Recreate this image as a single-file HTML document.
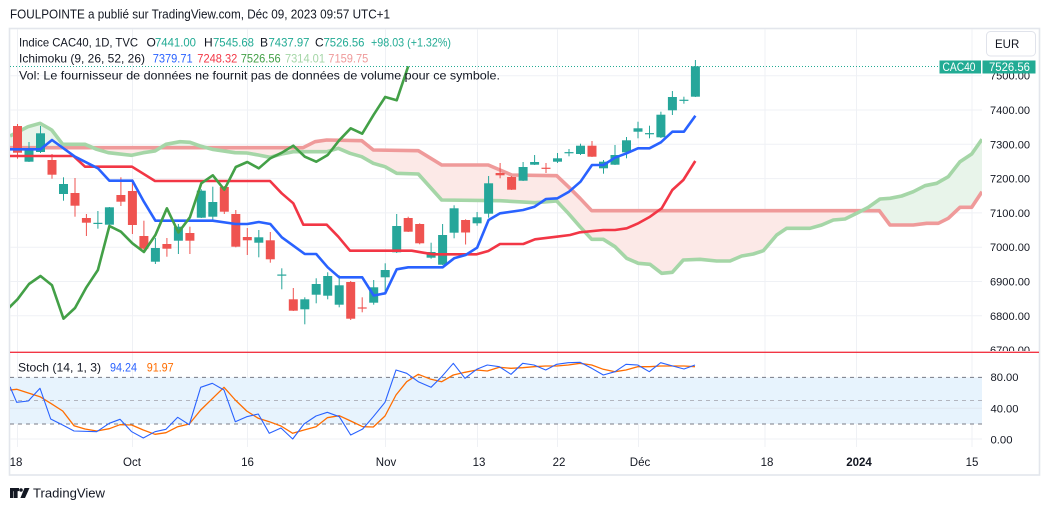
<!DOCTYPE html>
<html><head><meta charset="utf-8"><style>
html,body{margin:0;padding:0;background:#fff;}
svg{display:block;font-family:"Liberation Sans",Arial,sans-serif;}
</style></head><body>
<svg width="1050" height="511" viewBox="0 0 1050 511" xmlns="http://www.w3.org/2000/svg">
<defs>
<clipPath id="pp"><rect x="10" y="29" width="972" height="322"/></clipPath>
<clipPath id="sp"><rect x="10" y="353" width="972" height="94"/></clipPath>
<clipPath id="ax"><rect x="983" y="29" width="56" height="322"/></clipPath>
<clipPath id="belowA"><polygon points="10,136 28,126.7 40,123.3 51.7,130 62.7,144.3 85,144.3 96.7,149.3 108.3,152.7 131.7,155.3 143.3,152.7 155,151 166,144.3 180,141.7 190,142.3 200,146 212.3,149.3 235,152.7 247,153 258.3,155 270,157.3 281.7,154 293.3,151.7 326.7,151.7 338.3,148.3 350,153.3 361.7,156.7 373.3,163.3 385,166.7 396.7,173.3 418.3,174 430,187 441.7,200 500,200.7 535,202.7 556.7,201 568.3,213.3 580,226.7 591.7,239.3 603.3,239.3 615,246.7 626.7,258.3 638.3,263.3 650,264.3 661.7,273.3 672.3,272.3 683.3,260 700,259.3 716.7,261 730,261 741.7,256 753.3,254 763.3,250.7 776.7,235 786.7,228.3 810,228.3 821.7,225 833.3,220 845,219 856.7,213.3 868.3,207.3 880,199 890,198.3 901.7,196 913.3,191.7 925,185.7 936.7,183.3 948.3,176.7 960,161.7 971.7,154 982,139.3 982,360 10,360"/></clipPath>
<clipPath id="belowB"><polygon points="10,147.7 303,147.7 315,141.7 326.7,140 361.7,140.7 373.3,150 418.3,150.7 441.7,165 488.3,165 500,170 511.7,175 556.7,175.7 568.3,186.7 580,198.3 591.7,210.7 879.3,210.7 890,225 913.3,225 926.7,223.3 938.3,223.3 948.3,218.3 960,207.3 971.7,207.3 982,191.7 982,360 10,360"/></clipPath>
</defs>

<!-- header -->
<text x="10" y="18.5" font-size="12.5" fill="#131722" textLength="380" lengthAdjust="spacingAndGlyphs">FOULPOINTE a publié sur TradingView.com, Déc 09, 2023 09:57 UTC+1</text>

<!-- frame -->
<rect x="9.5" y="28.5" width="1030" height="446.5" fill="#fff" stroke="#e3e6ec" stroke-width="1.6"/>

<!-- grid -->
<g stroke="#eff1f5" stroke-width="1">
<line x1="10" y1="75.7" x2="982" y2="75.7"/>
<line x1="10" y1="110" x2="982" y2="110"/>
<line x1="10" y1="144.3" x2="982" y2="144.3"/>
<line x1="10" y1="178.6" x2="982" y2="178.6"/>
<line x1="10" y1="212.9" x2="982" y2="212.9"/>
<line x1="10" y1="247.2" x2="982" y2="247.2"/>
<line x1="10" y1="281.5" x2="982" y2="281.5"/>
<line x1="10" y1="315.8" x2="982" y2="315.8"/>
<line x1="17.5" y1="29" x2="17.5" y2="447"/>
<line x1="132.5" y1="29" x2="132.5" y2="447"/>
<line x1="247.5" y1="29" x2="247.5" y2="447"/>
<line x1="385.5" y1="29" x2="385.5" y2="447"/>
<line x1="477.5" y1="29" x2="477.5" y2="447"/>
<line x1="557.5" y1="29" x2="557.5" y2="447"/>
<line x1="638.5" y1="29" x2="638.5" y2="447"/>
<line x1="765" y1="29" x2="765" y2="447"/>
<line x1="856.5" y1="29" x2="856.5" y2="447"/>
<line x1="972" y1="29" x2="972" y2="447"/>
</g>

<g clip-path="url(#pp)">
<!-- cloud fills -->
<g fill-rule="evenodd">
<polygon clip-path="url(#belowA)" fill="#e8f4ea" points="10,136 28,126.7 40,123.3 51.7,130 62.7,144.3 85,144.3 96.7,149.3 108.3,152.7 131.7,155.3 143.3,152.7 155,151 166,144.3 180,141.7 190,142.3 200,146 212.3,149.3 235,152.7 247,153 258.3,155 270,157.3 281.7,154 293.3,151.7 326.7,151.7 338.3,148.3 350,153.3 361.7,156.7 373.3,163.3 385,166.7 396.7,173.3 418.3,174 430,187 441.7,200 500,200.7 535,202.7 556.7,201 568.3,213.3 580,226.7 591.7,239.3 603.3,239.3 615,246.7 626.7,258.3 638.3,263.3 650,264.3 661.7,273.3 672.3,272.3 683.3,260 700,259.3 716.7,261 730,261 741.7,256 753.3,254 763.3,250.7 776.7,235 786.7,228.3 810,228.3 821.7,225 833.3,220 845,219 856.7,213.3 868.3,207.3 880,199 890,198.3 901.7,196 913.3,191.7 925,185.7 936.7,183.3 948.3,176.7 960,161.7 971.7,154 982,139.3 982,191.7 971.7,207.3 960,207.3 948.3,218.3 938.3,223.3 926.7,223.3 913.3,225 890,225 879.3,210.7 591.7,210.7 580,198.3 568.3,186.7 556.7,175.7 511.7,175 500,170 488.3,165 441.7,165 418.3,150.7 373.3,150 361.7,140.7 326.7,140 315,141.7 303,147.7 10,147.7"/>
<polygon clip-path="url(#belowB)" fill="#fce9e7" points="10,136 28,126.7 40,123.3 51.7,130 62.7,144.3 85,144.3 96.7,149.3 108.3,152.7 131.7,155.3 143.3,152.7 155,151 166,144.3 180,141.7 190,142.3 200,146 212.3,149.3 235,152.7 247,153 258.3,155 270,157.3 281.7,154 293.3,151.7 326.7,151.7 338.3,148.3 350,153.3 361.7,156.7 373.3,163.3 385,166.7 396.7,173.3 418.3,174 430,187 441.7,200 500,200.7 535,202.7 556.7,201 568.3,213.3 580,226.7 591.7,239.3 603.3,239.3 615,246.7 626.7,258.3 638.3,263.3 650,264.3 661.7,273.3 672.3,272.3 683.3,260 700,259.3 716.7,261 730,261 741.7,256 753.3,254 763.3,250.7 776.7,235 786.7,228.3 810,228.3 821.7,225 833.3,220 845,219 856.7,213.3 868.3,207.3 880,199 890,198.3 901.7,196 913.3,191.7 925,185.7 936.7,183.3 948.3,176.7 960,161.7 971.7,154 982,139.3 982,191.7 971.7,207.3 960,207.3 948.3,218.3 938.3,223.3 926.7,223.3 913.3,225 890,225 879.3,210.7 591.7,210.7 580,198.3 568.3,186.7 556.7,175.7 511.7,175 500,170 488.3,165 441.7,165 418.3,150.7 373.3,150 361.7,140.7 326.7,140 315,141.7 303,147.7 10,147.7"/>
</g>
<!-- senkou lines -->
<g fill="none" stroke-width="3.6" stroke-linejoin="round">
<polyline stroke="#ef9a9a" points="10,147.7 303,147.7 315,141.7 326.7,140 361.7,140.7 373.3,150 418.3,150.7 441.7,165 488.3,165 500,170 511.7,175 556.7,175.7 568.3,186.7 580,198.3 591.7,210.7 879.3,210.7 890,225 913.3,225 926.7,223.3 938.3,223.3 948.3,218.3 960,207.3 971.7,207.3 982,191.7"/>
<polyline stroke="#a5d6a7" points="10,136 28,126.7 40,123.3 51.7,130 62.7,144.3 85,144.3 96.7,149.3 108.3,152.7 131.7,155.3 143.3,152.7 155,151 166,144.3 180,141.7 190,142.3 200,146 212.3,149.3 235,152.7 247,153 258.3,155 270,157.3 281.7,154 293.3,151.7 326.7,151.7 338.3,148.3 350,153.3 361.7,156.7 373.3,163.3 385,166.7 396.7,173.3 418.3,174 430,187 441.7,200 500,200.7 535,202.7 556.7,201 568.3,213.3 580,226.7 591.7,239.3 603.3,239.3 615,246.7 626.7,258.3 638.3,263.3 650,264.3 661.7,273.3 672.3,272.3 683.3,260 700,259.3 716.7,261 730,261 741.7,256 753.3,254 763.3,250.7 776.7,235 786.7,228.3 810,228.3 821.7,225 833.3,220 845,219 856.7,213.3 868.3,207.3 880,199 890,198.3 901.7,196 913.3,191.7 925,185.7 936.7,183.3 948.3,176.7 960,161.7 971.7,154 982,139.3"/>
</g>

<!-- candles teal -->
<g fill="#26a69a">
<rect x="28.5" y="142" width="1" height="20"/><rect x="24.5" y="150" width="9" height="11.7"/>
<rect x="40" y="126" width="1" height="27"/><rect x="36" y="133.3" width="9" height="18.7"/>
<rect x="63" y="177.3" width="1" height="23.4"/><rect x="59" y="184" width="9" height="10"/>
<rect x="97.4" y="211" width="1" height="17.7"/><rect x="93.4" y="222.8" width="9" height="1.2"/>
<rect x="108.9" y="207" width="1" height="19"/><rect x="104.9" y="207.3" width="9" height="17.4"/>
<rect x="154.9" y="238" width="1" height="26"/><rect x="150.9" y="248" width="9" height="13.7"/>
<rect x="177.9" y="224" width="1" height="30"/><rect x="173.9" y="226.7" width="9" height="14"/>
<rect x="200.8" y="189.3" width="1" height="28.7"/><rect x="196.8" y="190.7" width="9" height="27"/>
<rect x="212.3" y="186.7" width="1" height="33.3"/><rect x="208.3" y="202" width="9" height="14.7"/>
<rect x="258.3" y="230" width="1" height="27.3"/><rect x="254.3" y="237.3" width="9" height="5.4"/>
<rect x="281.3" y="268.3" width="1" height="21"/><rect x="277.3" y="274.5" width="9" height="1.2"/>
<rect x="304.3" y="297.3" width="1" height="27"/><rect x="300.3" y="299.3" width="9" height="10"/>
<rect x="315.7" y="278.3" width="1" height="25"/><rect x="311.7" y="284" width="9" height="10.7"/>
<rect x="327.2" y="272.3" width="1" height="27"/><rect x="323.2" y="276" width="9" height="19.7"/>
<rect x="338.7" y="275.3" width="1" height="32"/><rect x="334.7" y="285.3" width="9" height="19.4"/>
<rect x="373.2" y="280" width="1" height="24.7"/><rect x="369.2" y="287.3" width="9" height="15.4"/>
<rect x="384.7" y="263.3" width="1" height="28.4"/><rect x="380.7" y="270" width="9" height="7.3"/>
<rect x="396.2" y="214" width="1" height="39"/><rect x="392.2" y="226" width="9" height="26.3"/>
<rect x="430.6" y="242.7" width="1" height="16"/><rect x="426.6" y="252" width="9" height="5.7"/>
<rect x="442.1" y="224" width="1" height="41"/><rect x="438.1" y="235" width="9" height="29.7"/>
<rect x="453.6" y="205.3" width="1" height="33"/><rect x="449.6" y="208.3" width="9" height="24.4"/>
<rect x="476.6" y="212" width="1" height="13.7"/><rect x="472.6" y="217.3" width="9" height="6"/>
<rect x="488.1" y="176" width="1" height="41.7"/><rect x="484.1" y="183.3" width="9" height="30.4"/>
<rect x="522.6" y="162" width="1" height="19"/><rect x="518.6" y="167" width="9" height="13.7"/>
<rect x="534.1" y="155" width="1" height="10"/><rect x="530.1" y="162" width="9" height="2.7"/>
<rect x="557" y="153" width="1" height="10"/><rect x="553" y="158.3" width="9" height="3.4"/>
<rect x="568.5" y="149" width="1" height="7.3"/><rect x="564.5" y="152.1" width="9" height="1.2"/>
<rect x="580" y="143.7" width="1" height="11.3"/><rect x="576" y="145.7" width="9" height="8.3"/>
<rect x="603" y="160" width="1" height="13.7"/><rect x="599" y="161.7" width="9" height="6.6"/>
<rect x="614.5" y="145" width="1" height="20"/><rect x="610.5" y="155" width="9" height="9.7"/>
<rect x="626" y="137" width="1" height="21.3"/><rect x="622" y="140.3" width="9" height="12"/>
<rect x="637.5" y="121.7" width="1" height="16.6"/><rect x="633.5" y="128.3" width="9" height="3.4"/>
<rect x="649" y="125.7" width="1" height="12.6"/><rect x="645" y="133.1" width="9" height="1.2"/>
<rect x="660.4" y="111.7" width="1" height="26.3"/><rect x="656.4" y="114.7" width="9" height="22.6"/>
<rect x="671.9" y="91" width="1" height="24"/><rect x="667.9" y="97" width="9" height="13.3"/>
<rect x="683.4" y="96.7" width="1" height="7"/><rect x="679.4" y="99.7" width="9" height="1.2"/>
<rect x="694.9" y="60" width="1" height="37"/><rect x="690.9" y="66.3" width="9" height="30.4"/>
</g>
<!-- candles red -->
<g fill="#ef5350">
<rect x="17" y="124" width="1" height="34.7"/><rect x="13" y="126" width="9" height="26.7"/>
<rect x="51.5" y="154" width="1" height="24.7"/><rect x="47.5" y="160" width="9" height="14.7"/>
<rect x="74.5" y="178" width="1" height="38.7"/><rect x="70.5" y="193" width="9" height="12.7"/>
<rect x="85.9" y="214" width="1" height="22"/><rect x="81.9" y="218" width="9" height="4.7"/>
<rect x="120.4" y="177.3" width="1" height="28.7"/><rect x="116.4" y="195" width="9" height="6.7"/>
<rect x="131.9" y="179.3" width="1" height="54.7"/><rect x="127.9" y="191" width="9" height="34"/>
<rect x="143.4" y="220.7" width="1" height="29.3"/><rect x="139.4" y="236" width="9" height="12.7"/>
<rect x="166.4" y="238" width="1" height="18.7"/><rect x="162.4" y="244" width="9" height="4.7"/>
<rect x="189.4" y="226.7" width="1" height="27.3"/><rect x="185.4" y="233" width="9" height="7.7"/>
<rect x="223.8" y="186" width="1" height="28"/><rect x="219.8" y="187" width="9" height="24.7"/>
<rect x="235.3" y="210" width="1" height="37.3"/><rect x="231.3" y="214" width="9" height="32.7"/>
<rect x="246.8" y="228" width="1" height="27"/><rect x="242.8" y="237" width="9" height="3.3"/>
<rect x="269.8" y="232" width="1" height="30.7"/><rect x="265.8" y="240.3" width="9" height="19"/>
<rect x="292.8" y="288" width="1" height="23"/><rect x="288.8" y="299.3" width="9" height="11.4"/>
<rect x="350.2" y="281" width="1" height="39"/><rect x="346.2" y="282" width="9" height="36.7"/>
<rect x="361.7" y="297.3" width="1" height="15"/><rect x="357.7" y="307.4" width="9" height="1.2"/>
<rect x="407.7" y="216.7" width="1" height="15.3"/><rect x="403.7" y="218" width="9" height="13.7"/>
<rect x="419.2" y="223.3" width="1" height="21"/><rect x="415.2" y="224" width="9" height="19.3"/>
<rect x="465.1" y="219.3" width="1" height="25.2"/><rect x="461.1" y="220" width="9" height="12.5"/>
<rect x="499.6" y="163" width="1" height="15.3"/><rect x="495.6" y="173" width="9" height="2.3"/>
<rect x="511.1" y="176" width="1" height="14"/><rect x="507.1" y="177" width="9" height="12.7"/>
<rect x="545.5" y="163" width="1" height="10"/><rect x="541.5" y="167.7" width="9" height="1.2"/>
<rect x="591.5" y="141" width="1" height="16"/><rect x="587.5" y="145.7" width="9" height="11"/>
</g>

<!-- kijun, tenkan, chikou -->
<g fill="none" stroke-width="2.6" stroke-linejoin="round">
<polyline stroke="#f23645" points="10,156 73.5,156 85,166.7 132,166.7 155,181 270,181 281.7,193.3 293.3,203.3 303.3,224.7 326.7,224.7 338.3,236.7 350,250.7 411.7,250.7 423.3,252.7 433.3,254.3 476.7,254.3 488.3,251 500,244 523.3,244 535,239.3 556.7,236.7 570,235 580,232.3 603.3,230 615,230 626.7,228.3 638.3,223.3 650,216.7 661.7,208.3 672.3,190 683.3,180 695.3,161"/>
<polyline stroke="#2962ff" points="10,149.3 40.5,149.3 52,140 75,156.7 97.9,168.3 109.4,180.7 132.4,180.7 143.9,201.7 155.4,220.7 212.8,220.7 235.8,224 247.3,224 258.8,222 270.3,224 281.8,237.3 304.8,254 316.2,254 327.7,267.3 339.2,277.3 362.2,277.3 373.7,295.5 385.2,293.3 396.7,269.3 408.2,267.3 442.6,267.3 454.1,258.3 465.6,255 477.1,247.7 488.6,220 500.1,213.3 523.1,210 534.6,206.7 546,199 557.5,198.3 569,191.7 580.5,181.7 592,165 603.5,165 615,157.7 626.5,153.3 638,148.3 649.5,148.3 660.9,142.3 672.4,131.7 683.9,131.7 695.4,115.7"/>
<polyline stroke="#43a047" points="6,310.7 17.5,299.3 29,284 40.5,276 52,285.3 63.5,318.7 75,308 86.4,287.3 97.9,270 109.4,226 120.9,231.7 132.4,243.3 143.9,252 155.4,235 166.9,208.3 178.4,232.5 189.9,217.3 201.3,183.3 212.8,175.3 224.3,189.7 235.8,167 247.3,162 258.8,168.3 270.3,158.3 281.8,152.7 293.3,145.7 304.8,156.7 316.2,161.7 327.7,155 339.2,140.3 350.7,128.3 362.2,133.7 373.7,114.7 385.2,97 396.7,100.3 408.2,66.3"/>
</g>
<!-- price line -->
<line x1="10" y1="66.5" x2="939" y2="66.5" stroke="#22ab94" stroke-width="1" stroke-dasharray="1,2"/>
</g>

<!-- legend -->
<g font-size="12" fill="#131722">
<text x="19" y="46.3" textLength="119" lengthAdjust="spacingAndGlyphs">Indice CAC40, 1D, TVC</text>
<text x="146.5" y="46.3">O</text><text x="155" y="46.3" fill="#22ab94" textLength="41" lengthAdjust="spacingAndGlyphs">7441.00</text>
<text x="204" y="46.3">H</text><text x="213" y="46.3" fill="#22ab94" textLength="41" lengthAdjust="spacingAndGlyphs">7545.68</text>
<text x="260" y="46.3">B</text><text x="268.5" y="46.3" fill="#22ab94" textLength="41" lengthAdjust="spacingAndGlyphs">7437.97</text>
<text x="315" y="46.3">C</text><text x="323.5" y="46.3" fill="#22ab94" textLength="41" lengthAdjust="spacingAndGlyphs">7526.56</text>
<text x="371" y="46.3" fill="#22ab94" textLength="80" lengthAdjust="spacingAndGlyphs">+98.03 (+1.32%)</text>
<text x="19" y="62.7" textLength="126" lengthAdjust="spacingAndGlyphs">Ichimoku (9, 26, 52, 26)</text>
<text x="152.7" y="62.7" fill="#2962ff" textLength="40" lengthAdjust="spacingAndGlyphs">7379.71</text>
<text x="197.3" y="62.7" fill="#f23645" textLength="40" lengthAdjust="spacingAndGlyphs">7248.32</text>
<text x="240.7" y="62.7" fill="#43a047" textLength="40" lengthAdjust="spacingAndGlyphs">7526.56</text>
<text x="285" y="62.7" fill="#a5d6a7" textLength="40" lengthAdjust="spacingAndGlyphs">7314.01</text>
<text x="328.3" y="62.7" fill="#ef9a9a" textLength="40" lengthAdjust="spacingAndGlyphs">7159.75</text>
<text x="19" y="79.7" textLength="481" lengthAdjust="spacingAndGlyphs">Vol: Le fournisseur de données ne fournit pas de données de volume pour ce symbole.</text>
</g>

<!-- red separator -->
<line x1="10" y1="352.3" x2="1039" y2="352.3" stroke="#f23645" stroke-width="1.4"/>

<!-- stoch pane -->
<g clip-path="url(#sp)">
<rect x="10" y="377.4" width="972" height="46.6" fill="#e7f3fd"/>
<line x1="10" y1="408.2" x2="982" y2="408.2" stroke="#dfe6ee" stroke-width="1"/>
<line x1="10" y1="439" x2="982" y2="439" stroke="#eff1f5" stroke-width="1"/>
<line x1="10" y1="377.4" x2="982" y2="377.4" stroke="#787b86" stroke-width="1" stroke-dasharray="4,4"/>
<line x1="10" y1="400.5" x2="982" y2="400.5" stroke="#b2b5be" stroke-width="1" stroke-dasharray="4,4"/>
<line x1="10" y1="424" x2="982" y2="424" stroke="#787b86" stroke-width="1" stroke-dasharray="4,4"/>
<polyline fill="none" stroke="#ff6d00" stroke-width="1.3" stroke-linejoin="round" points="10,390 16.7,389.3 40,396.7 50.7,403.3 62.7,411 74,425.7 85,429 96.7,431 109.3,428.7 120,424.7 131.7,425 143.3,430 155,434.3 166,432.7 177.7,426.7 189.3,424 200.7,410 212.3,398.7 224,387.3 235.3,400 246.7,411 258.3,418.3 269.3,421.7 281,426 292.7,433.3 304,430 316,426.7 327.3,417.7 339.3,415.7 350.7,421 362.7,426.7 373.3,427 385,416 396,395 406.7,381.7 418.3,374.3 431,379.3 441.7,381.7 453.3,375 465,372.3 476.7,370 487.3,371 499.3,367.3 511,368.3 522.7,367.7 534,366.7 545.7,366 556.7,366 568.3,365 580,363.3 591.7,365 603.3,369.3 615,371.7 626,370 637.7,366.7 649.3,366.7 660.7,366 672.7,366 684,366 695,366.7"/>
<polyline fill="none" stroke="#2962ff" stroke-width="1.1" stroke-linejoin="round" points="10,386.7 16.7,402.3 28.3,401 40,388.3 50.7,419 62.7,425 74,431 96.7,431.7 109.3,423.3 120,419.3 131.7,431.7 143.3,438 155,431.7 166,429.3 177.7,417.3 189.3,424.7 200.7,387.3 212.3,383.3 224,390 235.3,421.7 246.7,416.7 258.3,414 269.3,433.3 281,428 292.7,439 304,424 316,416 327.3,412.3 339.3,416.7 350.7,435 362.7,429 373.3,416.7 385,402.3 396,370 406.7,373.3 418.3,381.7 431,387.3 441.7,376.7 453.3,363.3 465,378.3 476.7,369.3 487.3,365 499.3,366.7 511,374.3 522.7,363.3 534,365 545.7,370 556.7,364.3 568.3,362.7 580,362.3 591.7,368.3 603.3,375 615,371.7 626,364.3 637.7,365 649.3,371.7 660.7,362.7 672.7,366 684,369 695,365"/>
</g>
<g font-size="12">
<text x="18" y="371.5" fill="#131722" textLength="83" lengthAdjust="spacingAndGlyphs">Stoch (14, 1, 3)</text>
<text x="110" y="371.5" fill="#2962ff" textLength="27" lengthAdjust="spacingAndGlyphs">94.24</text>
<text x="146.7" y="371.5" fill="#ff6d00" textLength="27" lengthAdjust="spacingAndGlyphs">91.97</text>
</g>

<!-- price axis -->
<g font-size="11" fill="#131722">
<g clip-path="url(#ax)">
<text x="990" y="79.7" textLength="40" lengthAdjust="spacingAndGlyphs">7500.00</text>
<text x="990" y="114" textLength="40" lengthAdjust="spacingAndGlyphs">7400.00</text>
<text x="990" y="148.3" textLength="40" lengthAdjust="spacingAndGlyphs">7300.00</text>
<text x="990" y="182.6" textLength="40" lengthAdjust="spacingAndGlyphs">7200.00</text>
<text x="990" y="216.9" textLength="40" lengthAdjust="spacingAndGlyphs">7100.00</text>
<text x="990" y="251.2" textLength="40" lengthAdjust="spacingAndGlyphs">7000.00</text>
<text x="990" y="285.5" textLength="40" lengthAdjust="spacingAndGlyphs">6900.00</text>
<text x="990" y="319.8" textLength="40" lengthAdjust="spacingAndGlyphs">6800.00</text>
<text x="990" y="354.1" textLength="40" lengthAdjust="spacingAndGlyphs">6700.00</text>
</g>
<text x="990.5" y="381" textLength="28" lengthAdjust="spacingAndGlyphs">80.00</text>
<text x="990.5" y="412.3" textLength="28" lengthAdjust="spacingAndGlyphs">40.00</text>
<text x="990.5" y="443.3" textLength="22" lengthAdjust="spacingAndGlyphs">0.00</text>
</g>

<!-- price labels -->
<rect x="939.5" y="60.5" width="41.5" height="13" fill="#22ab94"/>
<text x="942.5" y="71.2" font-size="11.5" fill="#fff" textLength="33" lengthAdjust="spacingAndGlyphs">CAC40</text>
<rect x="982.5" y="60.5" width="53" height="13" fill="#22ab94"/>
<text x="989" y="71.2" font-size="11.5" fill="#fff" textLength="41" lengthAdjust="spacingAndGlyphs">7526.56</text>

<!-- EUR button -->
<rect x="986.5" y="31.5" width="49" height="24.5" rx="4" fill="#fff" stroke="#e0e3eb" stroke-width="1"/>
<text x="995" y="48" font-size="11.5" fill="#131722">EUR</text>

<!-- time axis -->
<g font-size="11.5" fill="#131722" text-anchor="middle">
<text x="16" y="466">18</text>
<text x="132" y="466">Oct</text>
<text x="247.5" y="466">16</text>
<text x="386" y="466">Nov</text>
<text x="479" y="466">13</text>
<text x="559" y="466">22</text>
<text x="640" y="466">Déc</text>
<text x="767" y="466">18</text>
<text x="859" y="466" font-weight="bold">2024</text>
<text x="972" y="466">15</text>
</g>

<!-- TradingView logo -->
<g fill="#131722">
<path d="M10 488h9v3h-5.5v7h-3.5v-7h0z"/>
<rect x="10" y="488" width="8.5" height="3.2"/>
<rect x="14" y="488" width="3.6" height="10"/>
<circle cx="21" cy="490" r="1.8"/>
<path d="M24.5 488h5l-4.5 10h-4.6z"/>
</g>
<text x="33" y="497.5" font-size="13" fill="#131722" textLength="72" lengthAdjust="spacingAndGlyphs">TradingView</text>
</svg>
</body></html>
